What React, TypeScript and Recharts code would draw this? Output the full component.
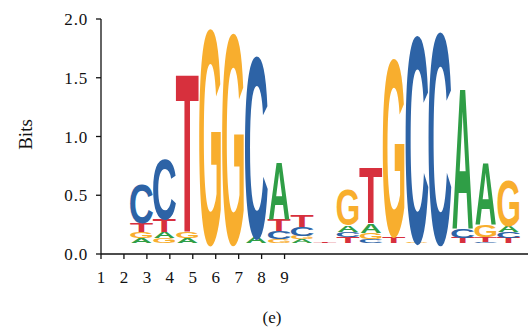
import { BarChart, Bar, XAxis, YAxis } from 'recharts'

// logo positions (columns), letters stacked from bottom to top, heights in bits
const positions = [1, 2, 3, 4, 5, 6, 7, 8, 9, 10, 11, 12, 13, 14, 15, 16, 17]
const stackLetters = [
  'AGTC', 'GATC', 'AGT', 'G', 'G', 'AC', 'GCTA', 'AGCT', 'T',
  'TCAG', 'CGAT', 'TG', 'GC', 'C', 'TCA', 'CTGA', 'TCAG',
]
const stackBits = [
  [0.045, 0.05, 0.075, 0.34],
  [0.045, 0.05, 0.11, 0.515],
  [0.045, 0.055, 1.38],
  [1.87],
  [1.83],
  [0.05, 1.58],
  [0.035, 0.07, 0.1, 0.5],
  [0.035, 0.03, 0.075, 0.1],
  [0.012],
  [0.055, 0.045, 0.06, 0.3],
  [0.035, 0.055, 0.08, 0.49],
  [0.06, 1.54],
  [0.01, 1.8],
  [1.84],
  [0.05, 0.08, 1.22],
  [0.015, 0.04, 0.1, 0.54],
  [0.05, 0.05, 0.05, 0.39],
]
const floorBits = 0.09
// the logo columns sit offset from the printed 1..9 tick labels
const columnOffset = 1.76
const yTicks = [0, 0.5, 1, 1.5, 2]
const xTicks = [1, 2, 3, 4, 5, 6, 7, 8, 9]

const SLOTS = [0, 1, 2, 3]

const rows = positions.map((p, i) => {
  const row: Record<string, number | string> = { x: p + columnOffset, floor: floorBits }
  SLOTS.forEach((s) => {
    row[`h${s}`] = stackBits[i][s] ?? 0
    row[`l${s}`] = stackLetters[i][s] ?? ''
  })
  return row
})

const letterColor: Record<string, string> = {
  A: '#2f9e46',
  C: '#2d63a6',
  G: '#f8ae2e',
  T: '#d7303d',
}
// ink extents of Liberation Sans Bold glyphs (em units)
const glyphBox: Record<string, [number, number]> = {
  A: [0, 0.722],
  C: [0.048, 0.676],
  G: [0.045, 0.728],
  T: [0.022, 0.589],
}
const capHeight = 0.716

function glyphShape(slot: number) {
  return (props: any) => {
    const { x, y, width, height, payload } = props
    const ch = payload?.[`l${slot}`]
    if (!ch || !(height > 0)) return <g />
    const [l, r] = glyphBox[ch]
    const fs = 100
    const pad = 0.6
    const sx = (width - 2 * pad) / ((r - l) * fs)
    const sy = height / (capHeight * fs)
    return (
      <text
        transform={`translate(${x + pad},${y + height}) scale(${sx},${sy})`}
        x={-l * fs}
        y={0}
        fontSize={fs}
        fontFamily="'Liberation Sans', Arial, sans-serif"
        fontWeight={700}
        fill={letterColor[ch]}
      >
        {ch}
      </text>
    )
  }
}

const serif = "'Liberation Serif', 'Times New Roman', serif"

export default function App() {
  return (
    <div style={{ position: 'relative', width: 529, height: 332 }}>
      <style>{'body{margin:0}'}</style>
      <BarChart
        width={529}
        height={332}
        data={rows}
        margin={{ top: 19, right: 1, left: 0, bottom: 48 }}
        barCategoryGap={0}
        barGap={0}
      >
        <XAxis
          dataKey="x"
          type="number"
          domain={[1, 19.61]}
          ticks={xTicks}
          allowDataOverflow
          height={30}
          tickSize={5}
          tickMargin={12}
          axisLine={{ stroke: '#111', strokeWidth: 1.3 }}
          tickLine={{ stroke: '#111', strokeWidth: 1.3 }}
          tick={{ fontFamily: serif, fontSize: 17, fill: '#111' }}
        />
        <YAxis
          domain={[0, 2]}
          ticks={yTicks}
          width={101}
          tickSize={5}
          tickMargin={8}
          tickFormatter={(v: number) => v.toFixed(1)}
          axisLine={{ stroke: '#111', strokeWidth: 1.3 }}
          tickLine={{ stroke: '#111', strokeWidth: 1.3 }}
          tick={{ fontFamily: serif, fontSize: 17, fill: '#111', letterSpacing: 0.8 }}
          label={{
            value: 'Bits',
            angle: -90,
            position: 'center',
            dx: -25,
            dy: -2,
            style: { fontFamily: serif, fontSize: 19, fill: '#111' },
          }}
        />
        <Bar dataKey="floor" stackId="logo" fill="none" isAnimationActive={false} />
        {SLOTS.map((s) => (
          <Bar
            key={s}
            dataKey={`h${s}`}
            stackId="logo"
            shape={glyphShape(s)}
            isAnimationActive={false}
          />
        ))}
      </BarChart>
      <div
        style={{
          position: 'absolute',
          left: 272,
          top: 308,
          transform: 'translateX(-50%)',
          fontFamily: serif,
          fontSize: 17,
          color: '#111',
        }}
      >
        (e)
      </div>
    </div>
  )
}
